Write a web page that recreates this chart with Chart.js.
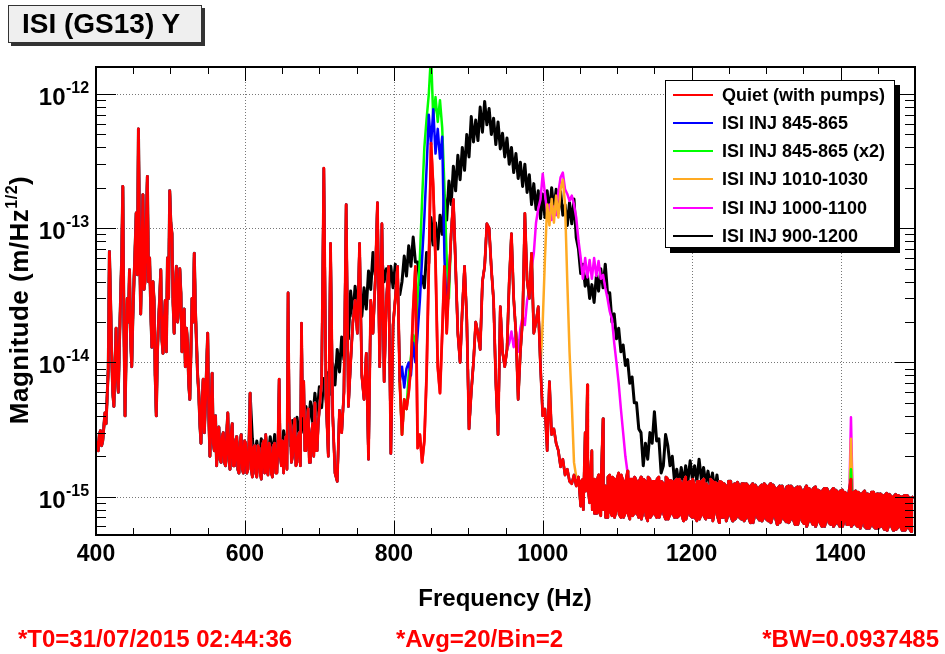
<!DOCTYPE html>
<html><head><meta charset="utf-8">
<script src="https://cdn.jsdelivr.net/npm/chart.js"></script>
<style>
html,body{margin:0;padding:0;background:#fff;}
#wrap{position:relative;width:945px;height:654px;overflow:hidden;font-family:"Liberation Sans",Arial,Helvetica,sans-serif;font-weight:bold;}
#c{position:absolute;left:0;top:0;}
.abs{position:absolute;white-space:nowrap;}
#title{left:8px;top:5px;width:194px;height:38px;box-sizing:border-box;border:1px solid #333;background:#efefef;box-shadow:3px 3px 0 #333;font-size:28px;line-height:36px;padding-left:13px;color:#000;}
#legend{left:665px;top:80px;width:230px;height:168px;box-sizing:border-box;border:1px solid #000;background:#fff;box-shadow:5px 5px 0 #000;}
.row{position:relative;height:28.15px;line-height:28.15px;font-size:18px;color:#000;}
.row .ln{position:absolute;left:7px;top:13px;width:40px;height:2px;}
.row .tx{position:absolute;left:56px;top:0;}
#ytitle{left:-181px;top:285px;width:400px;height:30px;line-height:30px;text-align:center;font-size:26px;letter-spacing:0.5px;transform:rotate(-90deg);color:#000;}
#ytitle span{font-size:16px;position:relative;top:-11px;}
#xtitle{left:305px;top:583px;width:400px;height:30px;line-height:30px;text-align:center;font-size:24px;color:#000;}
.foot{top:624px;height:30px;line-height:30px;font-size:24px;color:#ff0000;}
</style></head>
<body><div id="wrap">
<canvas id="c" width="945" height="654"></canvas>
<div id="title" class="abs">ISI (GS13) Y</div>
<div id="legend" class="abs"></div>
<div id="ytitle" class="abs">Magnitude (m/Hz<span>1/2</span>)</div>
<div id="xtitle" class="abs">Frequency (Hz)</div>
<div class="abs foot" style="left:18px">*T0=31/07/2015 02:44:36</div>
<div class="abs foot" style="left:396px">*Avg=20/Bin=2</div>
<div class="abs foot" style="right:6px">*BW=0.0937485</div>
</div>
<script>
// ---- data (magnitudes in units of 1e-15 m/Hz^1/2), sampled every binHz from freqStart ----
const freqStart = 400;
const binHz = 3;
const quietVals = [
2.6,2.2,3.1,2.6,4.2,5.6,67,12,4.7,18,
6,30,205,4,30,49,9.3,40,130,550,
23,178,41,243,60,13,29,4,20,49,
11.7,29,60,190,91,16.5,52,25,33,18,
9.3,14,5.3,30,65,14,6,2.5,7.5,5,
16.5,2,8.3,2.2,1.7,3.3,1.8,3,1.7,4.2,
1.6,3.5,1.7,2.8,1.5,2.9,1.5,2.5,1.6,5.9,
1.4,2.4,1.4,2.3,1.35,2.6,2.9,1.45,2.3,1.4,
2.5,1.5,7.5,1.7,1.5,2.8,33,3.5,2,3.8,
1.8,3,19.6,7.2,2.2,4.5,1.8,3.5,5,2.2,
4.5,7,280,5.3,2,77,4,1.5,1.3,4.4,
3,6,150,4.7,10,20,29,16.5,77,8,
5.3,11.7,1.9,29,16.5,40,155,9.3,108,7.2,
29,52,2.1,19,30,52,7.2,2.9,5.3,4.5,
6,9.3,25,52,2.3,2.9,1.8,2.6,8,52,
430,200,57,9.3,5.9,16.5,52,16.5,40,91,
164,52,16.5,10,25,52,21,3.2,6,10,
20,16.5,12.5,40,52,108,100,50,29,7.2,
2.9,26,12,9.3,12.5,40,91,30,16.5,5.3,
12,21,129,41,30,65,16.5,20,26,9.3,
4,4.5,2.2,7.2,2.9,3.2,2.5,2.2,1.67,1.9,
1.45,1.6,1.3,1.25,1.45,1.2,1.4,0.85,1.35,3,
6.8,0.9,2.2,1.35,0.75,1.45,0.72,3.8,1.2,0.7,
1.45,0.72,1.35,0.8,1.5,0.7,1.3,0.76,1.55,0.68,
1.35,0.75,1.3,0.7,1.4,0.78,1.3,0.66,1.35,0.74,
1.3,0.7,1.4,0.78,1.25,0.68,1.35,0.74,1.3,0.7,
1.35,0.72,1.25,0.66,1.4,0.76,1.3,0.7,1.22,0.66,
1.3,0.74,1.35,0.68,1.2,0.7,1.3,0.78,1.25,0.64,
1.28,0.7,1.2,0.74,1.3,0.66,1.25,0.72,1.2,0.68,
1.25,0.7,1.2,0.64,1.25,0.74,1.15,0.67,1.22,0.7,
1.2,0.66,1.25,0.72,1.15,0.62,1.2,0.7,1.1,0.65,
1.2,0.68,1.15,0.62,1.18,0.7,1.1,0.63,1.2,0.66,
1.12,0.62,1.18,0.66,1.1,0.6,1.15,0.68,1.08,0.62,
1.15,0.63,1.08,0.6,1.12,0.66,1.05,0.62,1.35,0.63,
1.1,0.6,1.05,0.64,1.1,0.58,1.04,0.62,1.08,0.58,
1.05,0.6,1.02,0.57,1.06,0.62,1,0.56,1.04,0.59,
1,0.56,1.02,0.59,0.98,0.55,1
];
// extra quiet readings half-way between bins (dense noisy stretches)
const quietMidStartA = 401.5;
const quietMidA = [
2.3,2.9,2.4,3.3,3.5,9,30,6,9,8,
14,60,20,12,20,15,22,70,45,80,
60,35,110,40,25,40,8,12,30,15,
20,12,30,110,28,35,20,50,12,25,
18,7,12,20,25,8,3.5,5,3,9,
4,4.5,2.5,4,2.8,1.9,2.8,1.8,2.9,1.9,
2.9,1.7,2.6,1.6,2.5,1.6,2.6,1.5,2.4,1.6,
2.3,1.5,2.4,1.5,2.4,1.5,1.6,2.5,1.5,2.4,
1.5,2.6,2,2.6,2.4,1.6,4,1.8,3.2,1.7,
2.8,1.7,4,2.2,3.6,1.8,3,2,2.2,3.5
];
const quietMidStartB = 1051.5;
const quietMidB = [
1.3,0.8,1.1,1.2,1.4,0.8,0.75,1.3,0.78,1.35,0.8,0.7,1.4,
0.78,1.4,0.7,1.35,0.74,1.45,0.7,1.3,0.75,1.35,
0.72,1.4,0.76,1.3,0.68,1.35,0.72,1.4,0.7,1.3,
0.75,1.35,0.7,1.3,0.74,1.4,0.68,1.32,0.76,1.3,
0.7,1.35,0.74,1.3,0.68,1.28,0.72,1.35,0.7,1.3,
0.68,1.3,0.72,1.25,0.7,1.35,0.66,1.28,0.72,1.3,
0.7,1.25,0.66,1.3,0.72,1.22,0.68,1.28,0.7,1.25,
0.66,1.25,0.7,1.2,0.64,1.22,0.7,1.18,0.66,1.25,
0.68,1.2,0.64,1.22,0.7,1.15,0.64,1.2,0.68,1.18,
0.64,1.2,0.68,1.15,0.62,1.18,0.66,1.12,0.6,1.15,
0.66,1.15,0.6,1.12,0.64,1.1,0.6,1.15,0.64,1.1,
0.6,1.12,0.64,1.1,0.6,1.08,0.62,1.1,0.6,1.08,
0.62,1.08,0.58,1.06,0.6,1.05,0.58,1.08,0.6,1.04,
0.58,1.05,0.6,1.02,0.56,1.04,0.6,1,0.57,1.02,
0.6,1,0.56,1.02,0.58,0.98
];
// injection series: where they differ from the quiet trace (same bin grid)
const inj900Start = 610;
const inj900Vals = [
2.7,1.9,2.6,1.8,2.7,1.9,2.8,1.9,2.8,2,
2.9,2,3,2.1,3.1,2.2,3.5,2.4,3.7,2.6,
3.9,2.8,4.3,3,4.7,3.3,5.1,3.6,5.9,4.1,
6.6,4.6,7.6,5.3,8.4,5.8,9.8,6.8,12.5,8.5,
15.5,10.5,21,15,34,22,37,25,33,22,
36,25,48,35,66,45,70,48,60,40,
50,34,52,36,54,36,32,40,62,44,
74,52,86,56,56,38,44,36,66,55,
120,75,110,70,125,90,175,115,225,150,
290,190,350,230,400,270,500,340,680,440,
640,450,800,520,880,590,780,500,660,420,
620,390,510,340,470,300,400,260,360,235,
310,205,300,185,250,150,215,138,190,118,
180,120,190,128,200,135,195,130,188,125,
150,105,155,108,165,85,70,46,54,37,
45,30,38,28,44,34,50,36,54,33,
33,20,23,15,18,12,13.5,9.5,10.5,7,
7.8,5,5,3.2,3,1.7,2.5,1.9,3,2.5,
4.3,2.6,2.7,1.5,1.7,2.9,2.4,1.7,2,1.3,
1.6,1.2,1.65,1.25,1.7,1.3,1.85,1.35,1.7,1.3,
1.9,1.35,1.65,1.25,1.55,1.2,1.5,1.1,1.45,1.05
];
const inj845Start = 808;
const inj845Vals = [7.2,9.3,6.5,9,10,8,14,10,16.5,29,60,120,280,700,420,770,360,550,330,480,60,25,40];
const inj845x2Start = 820;
const inj845x2Vals = [8,11,16,13,30,60,164,400,650,1000,2000,650,950,620,900,560,200,60,30];
const inj1010Start = 997;
const inj1010Vals = [9.3,20,60,150,105,165,110,175,120,195,230,150,40,12,5,1.8,1.4];
const inj1000Start = 955;
const inj1000Vals = [
14,17,13,17,12,18,22,19,29,35,
50,65,110,140,164,255,180,130,150,115,
145,125,185,240,260,195,180,160,175,150,
120,81,60,42,60,43,58,42,60,44,
57,42,45,36,30,24,21,14,10,7,
4.5,3,2,1.5,1.3
];
const line1414Start = 1414;
const line1414Green = [1.6];
const line1414Orange = [2.7];
const line1414Magenta = [3.9];

const seriesLabels = ['Quiet (with pumps)','ISI INJ 845-865','ISI INJ 845-865 (x2)','ISI INJ 1010-1030','ISI INJ 1000-1100','ISI INJ 900-1200'];
const seriesColors = ['#ff0000','#0000ff','#00ff00','#ffaa22','#ff00ff','#000000'];
const seriesOverrides = [
  [],
  [[inj845Start, inj845Vals]],
  [[inj845x2Start, inj845x2Vals],[line1414Start, line1414Green]],
  [[inj1010Start, inj1010Vals],[line1414Start, line1414Orange]],
  [[inj1000Start, inj1000Vals],[line1414Start, line1414Magenta]],
  [[inj900Start, inj900Vals]]
];
const quietMidSegs = [[quietMidStartA, quietMidA], [quietMidStartB, quietMidB]];
const xTickLabels = [400,600,800,1000,1200,1400];
const xMinorStep = 50;
const yLabelExps = [-15,-14,-13,-12];
const yUnit = 1e-15;

function buildSeries(overrides){
  const v = quietVals.slice();
  const touched = v.map(() => false);
  overrides.forEach(([start, arr]) => {
    const o = Math.round((start - freqStart) / binHz);
    arr.forEach((a, k) => { v[o + k] = a; touched[o + k] = true; });
  });
  const pts = v.map((val, i) => ({x: freqStart + binHz * i, y: val * yUnit}));
  quietMidSegs.forEach(([start, arr]) => arr.forEach((a, k) => {
    const f = start + binHz * k;
    const i = Math.floor((f - freqStart) / binHz);
    if (!touched[i] && !touched[i + 1]) pts.push({x: f, y: a * yUnit});
  }));
  pts.sort((p, q) => p.x - q.x);
  return pts;
}

// legend (HTML) from the series arrays
const leg = document.getElementById('legend');
seriesLabels.forEach((lab, k) => {
  const r = document.createElement('div'); r.className = 'row';
  r.innerHTML = '<div class="ln" style="background:' + seriesColors[k] + '"></div><div class="tx"></div>';
  r.querySelector('.tx').textContent = lab;
  leg.appendChild(r);
});

const axesPlugin = {
  id: 'rootAxes',
  beforeDatasetsDraw(chart){
    const {ctx, chartArea: a, scales: {x, y}} = chart;
    ctx.save();
    ctx.strokeStyle = '#777'; ctx.lineWidth = 1; ctx.setLineDash([1, 2]);
    ctx.beginPath();
    xTickLabels.forEach(v => {
      if (v > x.min && v < x.max) { const p = Math.round(x.getPixelForValue(v)) + 0.5; ctx.moveTo(p, a.top); ctx.lineTo(p, a.bottom); }
    });
    yLabelExps.forEach(e => {
      const p = Math.round(y.getPixelForValue(Math.pow(10, e))) + 0.5; ctx.moveTo(a.left, p); ctx.lineTo(a.right, p);
    });
    ctx.stroke();
    ctx.restore();
  },
  afterDatasetsDraw(chart){
    const {ctx, chartArea: a, scales: {x, y}} = chart;
    ctx.save();
    ctx.strokeStyle = '#000'; ctx.lineWidth = 1;
    ctx.beginPath();
    for (let v = x.min; v <= x.max + 1e-9; v += xMinorStep) {
      const major = xTickLabels.includes(v);
      const L = major ? 14 : 7;
      const p = Math.round(x.getPixelForValue(v)) + 0.5;
      ctx.moveTo(p, a.bottom); ctx.lineTo(p, a.bottom - L);
      ctx.moveTo(p, a.top); ctx.lineTo(p, a.top + L);
    }
    const eLo = Math.floor(Math.log10(y.min)), eHi = Math.ceil(Math.log10(y.max));
    for (let e = eLo; e <= eHi; e++) {
      for (let m = 1; m <= 9; m++) {
        const v = m * Math.pow(10, e);
        if (v < y.min || v > y.max) continue;
        const L = m === 1 ? 20 : 10;
        const p = Math.round(y.getPixelForValue(v)) + 0.5;
        ctx.moveTo(a.left, p); ctx.lineTo(a.left + L, p);
        ctx.moveTo(a.right, p); ctx.lineTo(a.right - L, p);
      }
    }
    ctx.stroke();
    ctx.lineWidth = 2;
    ctx.strokeRect(a.left, a.top, a.right - a.left, a.bottom - a.top);
    // tick labels
    ctx.fillStyle = '#000';
    ctx.font = 'bold 23px "Liberation Sans", Arial, sans-serif';
    ctx.textAlign = 'center'; ctx.textBaseline = 'alphabetic';
    xTickLabels.forEach(v => ctx.fillText(String(v), x.getPixelForValue(v), a.bottom + 26));
    yLabelExps.forEach(e => {
      const p = y.getPixelForValue(Math.pow(10, e));
      ctx.font = 'bold 24px "Liberation Sans", Arial, sans-serif';
      ctx.textAlign = 'right';
      ctx.fillText('10', 65.5, p + 11);
      ctx.font = 'bold 16px "Liberation Sans", Arial, sans-serif';
      ctx.textAlign = 'left';
      ctx.fillText(String(e), 66, p - 1);
    });
    ctx.restore();
  }
};

const drawOrder = [0, 1, 2, 3, 4, 5]; // red on top, black at the back
const lineWidths = [2.8, 2.5, 2.5, 2.5, 2.5, 3];
new Chart(document.getElementById('c'), {
  type: 'line',
  data: {
    datasets: seriesLabels.map((lab, k) => ({
      label: lab,
      data: buildSeries(seriesOverrides[k]),
      borderColor: seriesColors[k],
      backgroundColor: seriesColors[k],
      borderWidth: lineWidths[k],
      borderJoinStyle: 'round',
      pointRadius: 0,
      fill: false,
      tension: 0,
      order: drawOrder[k]
    }))
  },
  options: {
    responsive: false,
    animation: false,
    events: [],
    parsing: false,
    normalized: true,
    layout: {padding: {left: 96, right: 30, top: 67, bottom: 119}},
    scales: {
      x: {type: 'linear', min: 400, max: 1500, display: false},
      y: {type: 'logarithmic', min: 5.18e-16, max: 1.59e-12, display: false}
    },
    plugins: {legend: {display: false}, tooltip: {enabled: false}, title: {display: false}}
  },
  plugins: [axesPlugin]
});
</script>
</body></html>
